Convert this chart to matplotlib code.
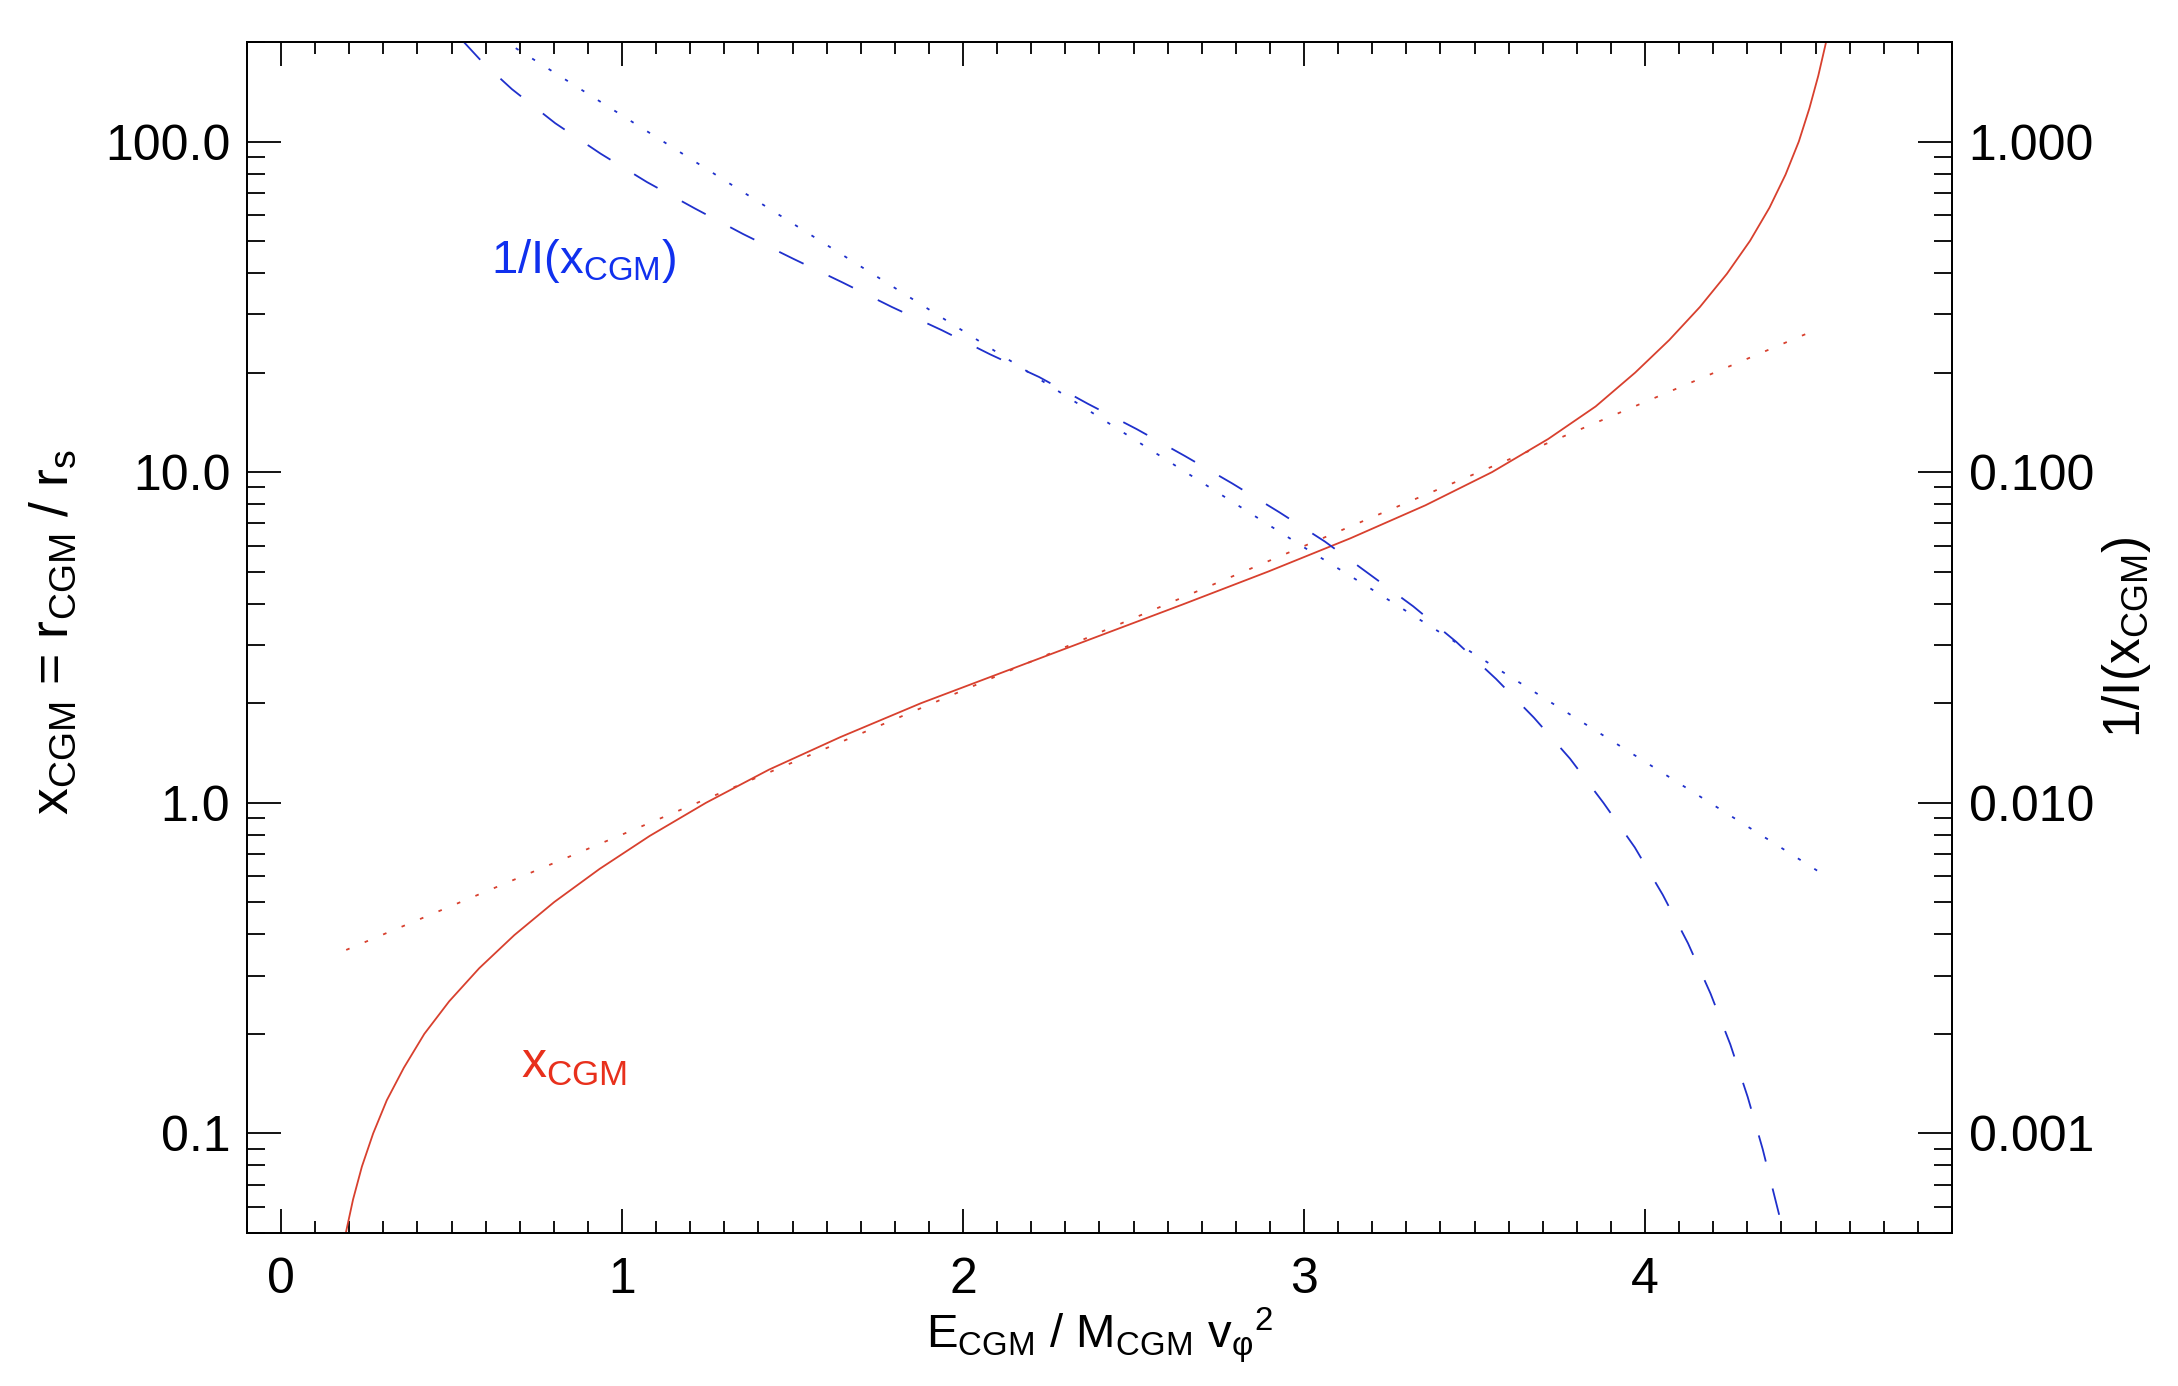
import matplotlib
matplotlib.use('Agg')
import matplotlib.pyplot as plt
from matplotlib.ticker import FixedLocator, FuncFormatter, LogLocator, MultipleLocator, NullFormatter

plt.rcParams['font.family'] = ['Liberation Sans', 'DejaVu Sans']
plt.rcParams['mathtext.fontset'] = 'custom'
plt.rcParams['mathtext.rm'] = 'Liberation Sans'
plt.rcParams['mathtext.it'] = 'Liberation Sans'
plt.rcParams['mathtext.bf'] = 'Liberation Sans:bold'
plt.rcParams['mathtext.sf'] = 'Liberation Sans'
plt.rcParams['lines.scale_dashes'] = False

# ---------------- data ----------------
# red solid: x_CGM as a function of E_CGM / M_CGM v_phi^2
x_solid = [0.0501, 0.0631, 0.0794, 0.100, 0.126, 0.158, 0.200, 0.251, 0.316, 0.398,
           0.501, 0.631, 0.794, 1.00, 1.26, 1.58, 2.00, 2.51, 3.16, 3.98,
           5.01, 6.31, 7.94, 10.0, 12.6, 15.8, 20.0, 25.1, 31.6, 39.8,
           50.1, 63.1, 79.4, 100.0, 126.0, 158.0, 200.0]
e_solid = [0.190, 0.211, 0.237, 0.270, 0.310, 0.360, 0.420, 0.493, 0.581, 0.684,
           0.801, 0.934, 1.081, 1.246, 1.431, 1.640, 1.876, 2.129, 2.386, 2.644,
           2.896, 3.136, 3.356, 3.551, 3.716, 3.855, 3.971, 4.071, 4.161, 4.240,
           4.308, 4.365, 4.412, 4.451, 4.482, 4.508, 4.531]

# red dotted: approximation for x_CGM
e_xapprox = [0.191, 1.030, 3.203, 4.510]
x_approx = [0.359, 0.826, 7.33, 27.2]

# blue dashed: 1/I(x_CGM)
e_inv = [0.530, 0.590, 0.677, 0.804, 0.937, 1.073, 1.214, 1.355, 1.502, 1.646,
         1.791, 1.937, 2.080, 2.223, 2.366, 2.509, 2.650, 2.789, 2.927, 3.061,
         3.320, 3.446, 3.563, 3.674, 3.780, 3.878, 3.970, 4.052, 4.126, 4.192,
         4.250, 4.301, 4.345, 4.394, 4.410]
inv_I = [2.03, 1.74, 1.44, 1.136, 0.919, 0.754, 0.627, 0.525, 0.442, 0.375,
         0.316, 0.269, 0.227, 0.194, 0.161, 0.135, 0.112, 0.0925, 0.0757, 0.0617,
         0.0393, 0.0307, 0.0237, 0.0181, 0.0136, 0.0100, 0.00733, 0.00527, 0.00376, 0.00265,
         0.00186, 0.00129, 0.000897, 0.000564, 0.00048]

# blue dotted: approximation for 1/I(x_CGM)
e_iapprox = [0.640, 1.570, 2.184, 2.997, 3.187, 4.379, 4.526]
inv_approx = [2.06, 0.509, 0.203, 0.0595, 0.0450, 0.00754, 0.00604]

left_ticks = [0.1, 1.0, 10.0, 100.0]
right_ticks = [0.001, 0.01, 0.1, 1.0]
x_ticks = [0, 1, 2, 3, 4]

RED_LINE = '#d8402e'
RED_TEXT = '#e8301c'
BLUE_LINE = '#1f30cc'
BLUE_TEXT = '#1030ee'

# ---------------- figure ----------------
fig = plt.figure(figsize=(21.78, 13.86), dpi=100)
ax = fig.add_axes([0.1134, 0.1104, 0.7828, 0.8593])
ax.set_yscale('log')
ax.set_xlim(-0.1, 4.9)
ax.set_ylim(0.05, 200)

ax2 = ax.twinx()
ax2.set_yscale('log')
ax2.set_ylim(0.0005, 2)

lw = 1.3
ax.plot(e_solid, x_solid, color=RED_LINE, lw=lw, solid_capstyle='butt')
ax.plot(e_xapprox, x_approx, color=RED_LINE, lw=lw, linestyle=(0, (2.6, 11.8)))
ax2.plot(e_inv, inv_I, color=BLUE_LINE, lw=lw, linestyle=(0, (19.5, 20.0)))
ax2.plot(e_iapprox, inv_approx, color=BLUE_LINE, lw=lw, linestyle=(0, (2.4, 11.6)))

ax.text(0.615, 40.1, r'1/I($\mathrm{x}_{\mathrm{CGM}}$)', color=BLUE_TEXT,
        fontsize=34, ha='left', va='baseline')
ax.text(0.704, 0.1477, r'$\mathrm{x}_{\mathrm{CGM}}$', color=RED_TEXT,
        fontsize=36, ha='left', va='baseline')

# ticks
for a in (ax, ax2):
    for s in a.spines.values():
        s.set_linewidth(1.3)

ax.xaxis.set_major_locator(FixedLocator(x_ticks))
ax.xaxis.set_minor_locator(MultipleLocator(0.1))
ax.xaxis.set_major_formatter(FuncFormatter(lambda v, p: f'{v:.0f}'))
ax.yaxis.set_major_locator(FixedLocator(left_ticks))
ax.yaxis.set_minor_locator(LogLocator(base=10, subs=range(2, 10), numticks=20))
ax.yaxis.set_major_formatter(FuncFormatter(lambda v, p: f'{v:.1f}'))
ax.yaxis.set_minor_formatter(NullFormatter())

ax2.yaxis.set_major_locator(FixedLocator(right_ticks))
ax2.yaxis.set_minor_locator(LogLocator(base=10, subs=range(2, 10), numticks=20))
ax2.yaxis.set_major_formatter(FuncFormatter(lambda v, p: f'{v:.3f}'))
ax2.yaxis.set_minor_formatter(NullFormatter())

ax.tick_params(axis='x', which='both', direction='in', top=True, bottom=True, width=1.3)
ax.tick_params(axis='x', which='major', length=17.3, pad=17, labelsize=36)
ax.tick_params(axis='x', which='minor', length=8.4)
ax.tick_params(axis='y', which='both', direction='in', left=True, right=False, width=1.3)
ax.tick_params(axis='y', which='major', length=24.7, pad=12, labelsize=36)
ax.tick_params(axis='y', which='minor', length=12.8)
ax2.tick_params(axis='y', which='both', direction='in', right=True, left=False, width=1.3)
ax2.tick_params(axis='y', which='major', length=24.7, pad=12, labelsize=36)
ax2.tick_params(axis='y', which='minor', length=12.8)

ax.set_xlabel(r'$\mathrm{E}_{\mathrm{CGM}}$ / $\mathrm{M}_{\mathrm{CGM}}$ $\mathrm{v}_{\varphi}{}^{2}$',
              fontsize=34)
ax.xaxis.set_label_coords(0.5, -0.061)
ax.set_ylabel(r'$\mathrm{x}_{\mathrm{CGM}}$ = $\mathrm{r}_{\mathrm{CGM}}$ / $\mathrm{r}_{\mathrm{s}}$',
              fontsize=38.5)
ax.yaxis.set_label_coords(-0.099, 0.505)
ax2.set_ylabel(r'1/I($\mathrm{x}_{\mathrm{CGM}}$)', fontsize=37)
ax2.yaxis.set_label_coords(1.087, 0.5)

fig.savefig('out.png', dpi=100)
